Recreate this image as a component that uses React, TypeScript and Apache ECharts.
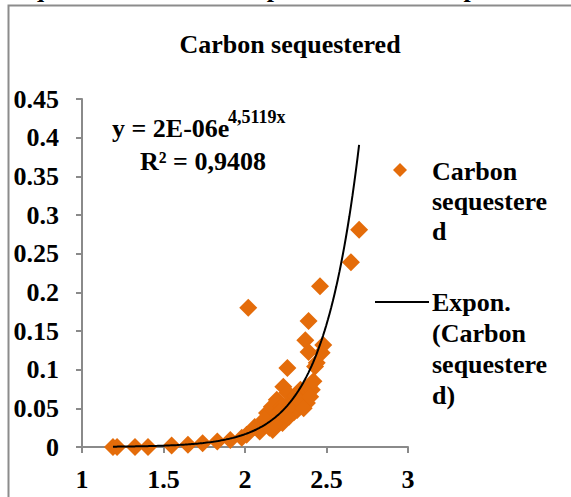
import React, { useEffect, useRef } from "react";
import * as echarts from "echarts";

const xValues: number[] = [
  1.19, 1.215, 1.325, 1.405, 1.55, 1.65, 1.74, 1.83, 1.91, 1.98, 2.01, 2.02,
  2.06, 2.09, 2.11, 2.135, 2.15, 2.165, 2.17, 2.195, 2.2, 2.225, 2.23, 2.235,
  2.26, 2.26, 2.27, 2.29, 2.3, 2.32, 2.34, 2.355, 2.37, 2.38, 2.39, 2.39,
  2.39, 2.41, 2.43, 2.44, 2.46, 2.47, 2.48, 2.65, 2.7, 2.25, 2.28, 2.31,
  2.12, 2.18, 2.21, 2.33, 2.36, 2.4, 2.42,
];
const yValues: number[] = [
  0.0, 0.0, 0.0, 0.0, 0.002, 0.003, 0.005, 0.007, 0.009, 0.012, 0.016, 0.18,
  0.026, 0.02, 0.031, 0.044, 0.025, 0.052, 0.022, 0.061, 0.035, 0.052, 0.031, 0.078,
  0.07, 0.102, 0.039, 0.061, 0.045, 0.048, 0.074, 0.065, 0.138, 0.057, 0.078, 0.163,
  0.123, 0.074, 0.104, 0.109, 0.208, 0.122, 0.132, 0.239, 0.281, 0.042, 0.055, 0.066,
  0.036, 0.03, 0.045, 0.06, 0.05, 0.065, 0.085,
];

const yTicks: number[] = [0, 0.05, 0.1, 0.15, 0.2, 0.25, 0.3, 0.35, 0.4, 0.45];
const xTicks: number[] = [1, 1.5, 2, 2.5, 3];

const trendA = 2e-6;
const trendB = 4.5119;

const FONT = '"Liberation Serif", "Times New Roman", serif';

export default function App() {
  const ref = useRef<HTMLDivElement>(null);
  useEffect(() => {
    if (!ref.current) return;
    const chart = echarts.init(ref.current, undefined, { renderer: "svg" });
    const scatter = xValues.map((x, i) => [x, yValues[i]]);
    const xMin = Math.min(...xValues);
    const xMax = Math.max(...xValues);
    const trend: number[][] = [];
    const n = 150;
    for (let i = 0; i <= n; i++) {
      const x = xMin + ((xMax - xMin) * i) / n;
      trend.push([x, trendA * Math.exp(trendB * x)]);
    }
    const labelStyle = {
      color: "#000",
      fontFamily: FONT,
      fontWeight: "bold" as const,
      fontSize: 26,
    };
    chart.setOption({
      animation: false,
      backgroundColor: "#fff",
      grid: { left: 82, right: 163, top: 99, bottom: 50, containLabel: false },
      xAxis: {
        type: "value",
        min: xTicks[0],
        max: xTicks[xTicks.length - 1],
        interval: 0.5,
        axisLine: { show: true, lineStyle: { color: "#8a8a8a", width: 2 } },
        axisTick: { show: true, length: 6, lineStyle: { color: "#8a8a8a", width: 2 } },
        axisLabel: { ...labelStyle, margin: 19, formatter: (v: number) => String(v) },
        splitLine: { show: false },
      },
      yAxis: {
        type: "value",
        min: yTicks[0],
        max: yTicks[yTicks.length - 1],
        interval: 0.05,
        axisLine: { show: true, lineStyle: { color: "#8a8a8a", width: 2 } },
        axisTick: { show: true, length: 6, lineStyle: { color: "#8a8a8a", width: 2 } },
        axisLabel: {
          ...labelStyle,
          margin: 23,
          formatter: (v: number) => String(Math.round(v * 100) / 100),
        },
        splitLine: { show: false },
      },
      series: [
        {
          type: "scatter",
          name: "Carbon sequestered",
          data: scatter,
          symbol: "diamond",
          symbolSize: 18,
          itemStyle: { color: "#E46C0A", opacity: 1 },
          z: 2,
        },
        {
          type: "line",
          name: "Expon. (Carbon sequestered)",
          data: trend,
          showSymbol: false,
          symbol: "none",
          lineStyle: { color: "#000", width: 2 },
          z: 3,
        },
      ],
      graphic: [
        {
          type: "rect",
          shape: { x: 8.5, y: 5.5, width: 700, height: 700 },
          style: { fill: "none", stroke: "#8c8c8c", lineWidth: 2 },
          silent: true,
        },
        {
          type: "text",
          x: 8,
          y: 1,
          style: {
            text: "sequestered and the empirical relationship of the carbon sequestered and",
            font: `bold 26px ${FONT}`,
            fill: "#000",
            align: "left",
            verticalAlign: "bottom",
          },
        },
        {
          type: "text",
          x: 290,
          y: 44,
          style: {
            text: "Carbon sequestered",
            font: `bold 26px ${FONT}`,
            fill: "#000",
            align: "center",
            verticalAlign: "middle",
          },
        },
        {
          type: "text",
          x: 112,
          y: 128,
          style: {
            text: "y = 2E-06e",
            font: `bold 26px ${FONT}`,
            fill: "#000",
            align: "left",
            verticalAlign: "middle",
          },
        },
        {
          type: "text",
          x: 228,
          y: 117,
          style: {
            text: "4,5119x",
            font: `bold 18px ${FONT}`,
            fill: "#000",
            align: "left",
            verticalAlign: "middle",
          },
        },
        {
          type: "text",
          x: 140,
          y: 161,
          style: {
            text: "R² = 0,9408",
            font: `bold 26px ${FONT}`,
            fill: "#000",
            align: "left",
            verticalAlign: "middle",
          },
        },
        {
          type: "polygon",
          shape: { points: [[400, 163], [407, 170], [400, 177], [393, 170]] },
          style: { fill: "#E46C0A" },
        },
        {
          type: "text",
          x: 432,
          y: 156,
          style: {
            text: "Carbon\nsequestere\nd",
            font: `bold 26px ${FONT}`,
            lineHeight: 30,
            fill: "#000",
            align: "left",
            verticalAlign: "top",
          },
        },
        {
          type: "line",
          shape: { x1: 375, y1: 302, x2: 429, y2: 302 },
          style: { stroke: "#000", lineWidth: 2 },
        },
        {
          type: "text",
          x: 432,
          y: 287,
          style: {
            text: "Expon.\n(Carbon\nsequestere\nd)",
            font: `bold 26px ${FONT}`,
            lineHeight: 31,
            fill: "#000",
            align: "left",
            verticalAlign: "top",
          },
        },
      ],
    });
    return () => chart.dispose();
  }, []);
  return (
    <div
      ref={ref}
      style={{ position: "absolute", left: 0, top: 0, width: 571, height: 497 }}
    />
  );
}
